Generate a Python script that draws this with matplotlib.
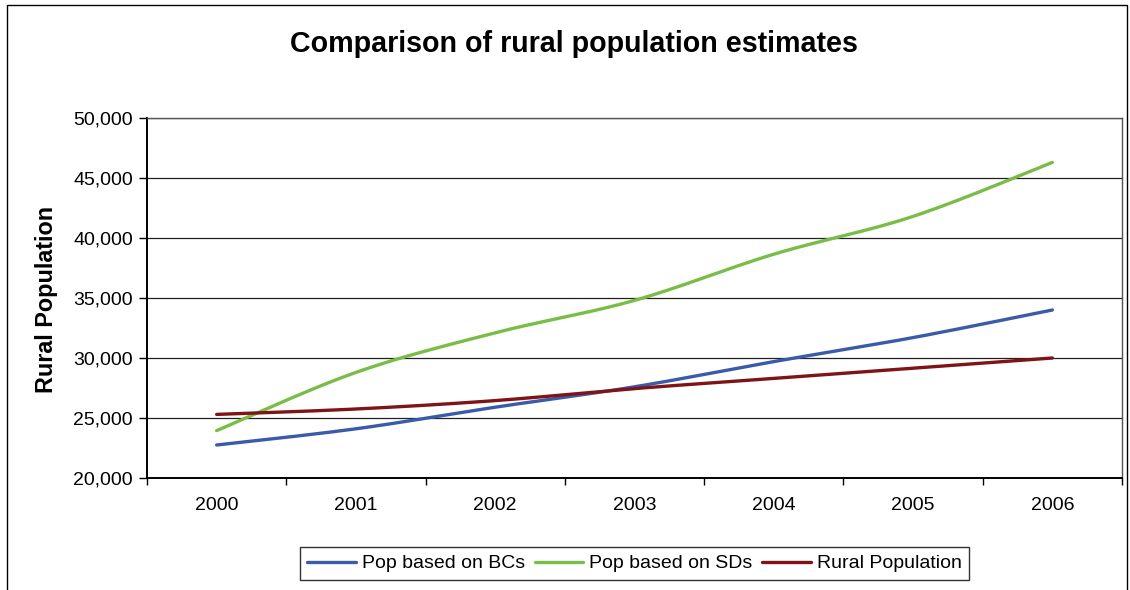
import numpy as np
import matplotlib
matplotlib.use("Agg")
import matplotlib.pyplot as plt
from matplotlib.patches import Rectangle
from matplotlib.ticker import FuncFormatter, FixedLocator

plt.rcParams['font.family'] = ['Liberation Sans', 'DejaVu Sans']

years = ["2000", "2001", "2002", "2003", "2004", "2005", "2006"]
pop_bcs = [22750, 24100, 25900, 27600, 29700, 31700, 34000]
pop_sds = [23950, 28800, 32100, 34800, 38650, 41800, 46300]
rural_pop = [25300, 25750, 26450, 27450, 28300, 29150, 30000]

series = [
    ("Pop based on BCs", pop_bcs, "#3A5BA9"),
    ("Pop based on SDs", pop_sds, "#78BE46"),
    ("Rural Population", rural_pop, "#7F1416"),
]


def smooth(xs, ys, n=40):
    """Cubic Bezier smoothing through every point (spreadsheet style)."""
    xs = np.asarray(xs, float)
    ys = np.asarray(ys, float)
    k = len(xs)
    out_x, out_y = [], []
    t = np.linspace(0, 1, n)
    for i in range(k - 1):
        im1 = max(i - 1, 0)
        ip2 = min(i + 2, k - 1)
        p0 = np.array([xs[i], ys[i]])
        p3 = np.array([xs[i + 1], ys[i + 1]])
        p1 = p0 + (np.array([xs[i + 1], ys[i + 1]]) - np.array([xs[im1], ys[im1]])) / 6
        p2 = p3 - (np.array([xs[ip2], ys[ip2]]) - np.array([xs[i], ys[i]])) / 6
        b = ((1 - t) ** 3)[:, None] * p0 + (3 * (1 - t) ** 2 * t)[:, None] * p1 \
            + (3 * (1 - t) * t ** 2)[:, None] * p2 + (t ** 3)[:, None] * p3
        out_x.extend(b[:, 0])
        out_y.extend(b[:, 1])
    return np.array(out_x), np.array(out_y)


W, H = 1130, 590
fig = plt.figure(figsize=(W / 100, H / 100), dpi=100)
fig.patch.set_facecolor("white")

# outer chart border
fig.add_artist(Rectangle((7 / W, -0.05), 1120 / W, 1.05 - 5 / H,
                         transform=fig.transFigure, fill=False,
                         edgecolor="black", linewidth=1.0))

left, right, top, bottom = 147, 1122, 118, 478
ax = fig.add_axes([left / W, 1 - bottom / H, (right - left) / W, (bottom - top) / H])

x = np.arange(len(years))
for name, vals, color in series:
    sx, sy = smooth(x, vals)
    ax.plot(sx, sy, color=color, linewidth=2.4, label=name,
            solid_capstyle="round", zorder=3)

ax.set_xlim(-0.5, len(years) - 0.5)
ax.set_ylim(20000, 50000)
ax.set_yticks(np.arange(20000, 50001, 5000))
ax.yaxis.set_major_formatter(FuncFormatter(lambda v, p: f"{int(v):,}"))
ax.grid(axis="y", color="#222222", linewidth=0.9, zorder=1)

ax.set_xticks(x)
ax.set_xticklabels(years)
ax.xaxis.set_minor_locator(FixedLocator(np.arange(-0.5, len(years), 1.0)))
ax.tick_params(axis="x", which="major", length=0, pad=14, labelsize=14)
ax.tick_params(axis="x", which="minor", length=5, width=1.0, direction="out")
ax.tick_params(axis="y", length=6, width=1.0, direction="out", pad=4, labelsize=14)

for side in ("left", "bottom"):
    ax.spines[side].set_linewidth(1.4)
    ax.spines[side].set_color("black")
for side in ("top", "right"):
    ax.spines[side].set_linewidth(1.0)
    ax.spines[side].set_color("#555555")

fig.text(574 / W, 1 - 44 / H, "Comparison of rural population estimates",
         ha="center", va="center", fontsize=20.6, fontweight="bold")
fig.text(47 / W, 1 - 299 / H, "Rural Population", rotation=90,
         ha="center", va="center", fontsize=16.8, fontweight="bold")

leg = fig.legend(loc="center", bbox_to_anchor=(634.5 / W, 1 - 563.5 / H), ncol=3,
                 frameon=True, fontsize=14, handlelength=2.5, handletextpad=0.3,
                 columnspacing=0.5, borderpad=0.4, fancybox=False)
leg.get_frame().set_edgecolor("black")
leg.get_frame().set_linewidth(1.0)

fig.savefig("out.png", dpi=100)
